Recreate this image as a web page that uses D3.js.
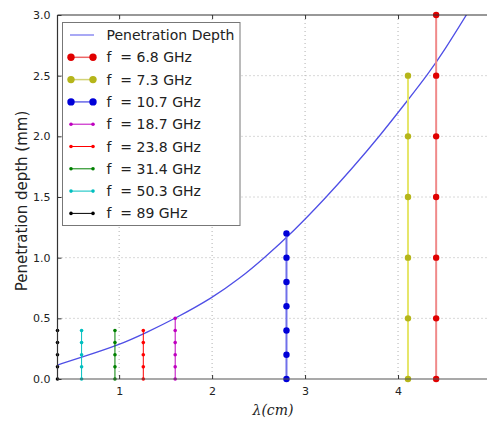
<!DOCTYPE html>
<html><head><meta charset="utf-8">
<script src="https://cdn.jsdelivr.net/npm/d3@7"></script>
<style>body{margin:0;background:#fff}svg{display:block}</style>
</head><body><svg id="c" width="487" height="422" font-family="DejaVu Sans, sans-serif"></svg>
<script>
// Penetration depth curve
const curveLambda = [0.337, 0.6, 1.0, 1.3, 1.606, 2.0, 2.3, 2.55, 2.88, 3.23, 3.5, 3.8, 4.107, 4.32, 4.5, 4.735, 5.0];
const curveDepth  = [0.115, 0.18, 0.28, 0.385, 0.5, 0.667, 0.83, 0.99, 1.22, 1.5, 1.73, 2.0, 2.3, 2.51, 2.71, 3.0, 3.33];

// Frequency channels
const seriesLabels = ["f  = 6.8 GHz","f  = 7.3 GHz","f  = 10.7 GHz","f  = 18.7 GHz","f  = 23.8 GHz","f  = 31.4 GHz","f  = 50.3 GHz","f  = 89 GHz"];
const seriesLambda = [4.41, 4.107, 2.80, 1.603, 1.26, 0.955, 0.596, 0.337];
const seriesDepths = [
  [0, 0.5, 1.0, 1.5, 2.0, 2.5, 3.0],
  [0, 0.5, 1.0, 1.5, 2.0, 2.5],
  [0, 0.2, 0.4, 0.6, 0.8, 1.0, 1.2],
  [0, 0.1, 0.2, 0.3, 0.4, 0.5],
  [0, 0.1, 0.2, 0.3, 0.4],
  [0, 0.1, 0.2, 0.3, 0.4],
  [0, 0.1, 0.2, 0.3, 0.4],
  [0, 0.1, 0.2, 0.3, 0.4]
];
const xTicks = [1, 2, 3, 4, 5];
const yTicks = [0.0, 0.5, 1.0, 1.5, 2.0, 2.5, 3.0];

// styles
const markerColors = ["#e00000","#b5b51a","#0000d8","#bf00bf","#ff0000","#008000","#00bfbf","#000000"];
const lineColors   = ["#f08a8a","#e6e66a","#7070ea","#bf00bf","#ff0000","#008000","#00bfbf","#000000"];
const lineWidths   = [2, 2, 2, 1, 1, 1, 1, 1];
const markerR      = [3.2, 3.2, 3.2, 1.8, 1.8, 1.8, 1.8, 1.8];

const svg = d3.select("#c");
const L = 57.5, R = 491, T = 15, B = 379;
const x = d3.scaleLinear().domain([0.337, 5]).range([L, R]);
const y = d3.scaleLinear().domain([0, 3]).range([B, T]);

svg.append("defs").append("clipPath").attr("id","pc").append("rect")
  .attr("x", L).attr("y", T).attr("width", R - L).attr("height", B - T);

// grid
const g = svg.append("g");
g.selectAll(".gx").data(xTicks).enter().append("line")
  .attr("x1", d => x(d)).attr("x2", d => x(d)).attr("y1", T).attr("y2", B)
  .attr("stroke", "#b0b0b0").attr("stroke-width", 1).attr("stroke-dasharray", "1,3");
g.selectAll(".gy").data(yTicks.slice(1, -1)).enter().append("line")
  .attr("x1", L).attr("x2", R).attr("y1", d => y(d)).attr("y2", d => y(d))
  .attr("stroke", "#b0b0b0").attr("stroke-width", 1).attr("stroke-dasharray", "1,3");

const plot = svg.append("g").attr("clip-path", "url(#pc)");

// curve
const cdata = curveLambda.map((l, i) => [l, curveDepth[i]]);
plot.append("path").datum(cdata)
  .attr("d", d3.line().x(d => x(d[0])).y(d => y(d[1])).curve(d3.curveBasis))
  .attr("fill", "none").attr("stroke", "#4f4fe6").attr("stroke-width", 1.3);

// series
seriesLambda.forEach((lam, i) => {
  const pts = seriesDepths[i];
  const sg = svg.append("g");
  sg.append("line")
    .attr("x1", x(lam)).attr("x2", x(lam))
    .attr("y1", y(d3.min(pts))).attr("y2", y(d3.max(pts)))
    .attr("stroke", lineColors[i]).attr("stroke-width", lineWidths[i]);
  sg.selectAll("circle").data(pts).enter().append("circle")
    .attr("cx", x(lam)).attr("cy", d => y(d)).attr("r", markerR[i])
    .attr("fill", markerColors[i]);
});

// spines
svg.append("line").attr("x1", L).attr("x2", R).attr("y1", T).attr("y2", T).attr("stroke", "#333").attr("stroke-width", 1.2);
svg.append("line").attr("x1", L).attr("x2", R).attr("y1", B).attr("y2", B).attr("stroke", "#555").attr("stroke-width", 1.2);
svg.append("line").attr("x1", L).attr("x2", L).attr("y1", T).attr("y2", B).attr("stroke", "#333").attr("stroke-width", 1.2);

// ticks (inward)
const xAxis = d3.axisBottom(x).tickValues(xTicks).tickSize(-4).tickPadding(8).tickFormat(d3.format("d"));
const xg = svg.append("g").attr("transform", `translate(0,${B})`).call(xAxis);
xg.select(".domain").remove();
xg.attr("font-family", null).attr("font-size", null);
xg.selectAll("line").attr("stroke", "#333");
xg.selectAll("text").attr("font-size", 11).attr("fill", "#222");
const xgt = svg.append("g").attr("transform", `translate(0,${T})`).call(d3.axisTop(x).tickValues(xTicks).tickSize(-4).tickFormat(""));
xgt.select(".domain").remove();
xgt.selectAll("line").attr("stroke", "#333");

const yAxis = d3.axisLeft(y).tickValues(yTicks).tickSize(-4).tickPadding(7).tickFormat(d3.format(".1f"));
const yg = svg.append("g").attr("transform", `translate(${L},0)`).call(yAxis);
yg.select(".domain").remove();
yg.attr("font-family", null).attr("font-size", null);
yg.selectAll("line").attr("stroke", "#333");
yg.selectAll("text").attr("font-size", 11).attr("fill", "#222");

// axis labels
svg.append("text").attr("x", 273).attr("y", 415).attr("text-anchor", "middle")
  .attr("font-family", "DejaVu Serif, serif").attr("font-style", "italic").attr("font-size", 14).attr("fill", "#222")
  .text("λ(cm)");
svg.append("text").attr("transform", "translate(27,201) rotate(-90)").attr("text-anchor", "middle")
  .attr("font-size", 15).attr("fill", "#222").text("Penetration depth (mm)");

// legend
const lg = svg.append("g");
lg.append("rect").attr("x", 62.5).attr("y", 22.5).attr("width", 177.5).attr("height", 203)
  .attr("fill", "#fff").attr("stroke", "#777").attr("stroke-width", 1);
const rowY = i => 35 + i * 22.3;
lg.append("line").attr("x1", 70).attr("x2", 94).attr("y1", rowY(0)).attr("y2", rowY(0))
  .attr("stroke", "#7a7af0").attr("stroke-width", 1.3);
lg.append("text").attr("x", 106.5).attr("y", rowY(0)).attr("dy", "0.36em").attr("font-size", 14).attr("fill", "#222")
  .text("Penetration Depth");
seriesLabels.forEach((lab, i) => {
  const yy = rowY(i + 1);
  lg.append("line").attr("x1", 71).attr("x2", 93).attr("y1", yy).attr("y2", yy)
    .attr("stroke", markerColors[i]).attr("stroke-width", lineWidths[i] > 1 ? 1.5 : 1).attr("stroke-opacity", lineWidths[i] > 1 ? 0.6 : 1);
  [71, 93].forEach(px => lg.append("circle").attr("cx", px).attr("cy", yy).attr("r", markerR[i] + (i < 3 ? 0.5 : 0))
    .attr("fill", markerColors[i]));
  lg.append("text").attr("x", 106.5).attr("y", yy).attr("dy", "0.36em").attr("font-size", 14).attr("fill", "#222")
    .style("white-space", "pre").text(lab);
});
</script></body></html>
